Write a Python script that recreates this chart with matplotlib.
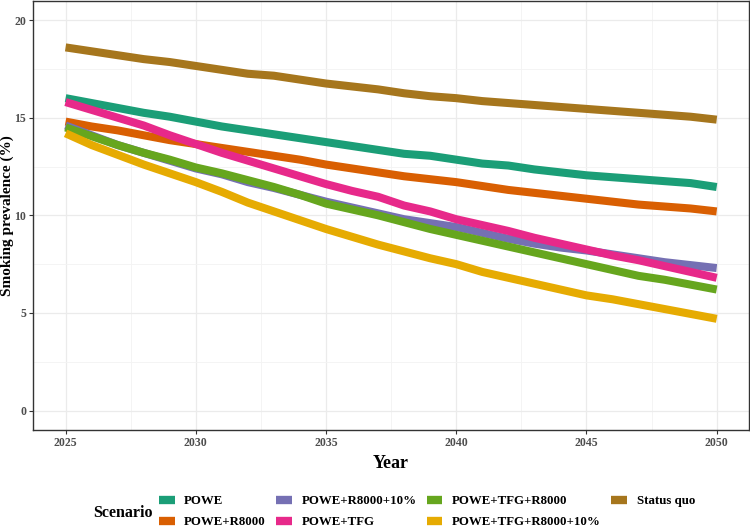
import matplotlib
matplotlib.use("Agg")
import matplotlib.pyplot as plt
from matplotlib.ticker import MultipleLocator

years = list(range(2025, 2051))

powe = [16.0, 15.75, 15.5, 15.25, 15.05, 14.8, 14.55, 14.35, 14.15, 13.95, 13.75, 13.55, 13.35,
        13.15, 13.05, 12.85, 12.65, 12.55, 12.35, 12.2, 12.05, 11.95, 11.85, 11.75, 11.65, 11.45]
powe_r8000 = [14.8, 14.55, 14.35, 14.1, 13.85, 13.65, 13.45, 13.25, 13.05, 12.85, 12.6, 12.4, 12.2,
              12.0, 11.85, 11.7, 11.5, 11.3, 11.15, 11.0, 10.85, 10.7, 10.55, 10.45, 10.35, 10.2]
powe_r8000_10 = [14.6, 14.1, 13.6, 13.2, 12.8, 12.4, 12.1, 11.7, 11.4, 11.05, 10.7, 10.4, 10.1,
                 9.8, 9.6, 9.4, 9.1, 8.8, 8.55, 8.35, 8.2, 8.0, 7.8, 7.6, 7.45, 7.3]
powe_tfg = [15.8, 15.4, 15.0, 14.6, 14.1, 13.65, 13.2, 12.8, 12.4, 12.0, 11.6, 11.25, 10.95,
            10.5, 10.2, 9.8, 9.5, 9.2, 8.85, 8.55, 8.25, 7.95, 7.7, 7.4, 7.1, 6.8]
powe_tfg_r8000 = [14.5, 14.05, 13.6, 13.2, 12.85, 12.45, 12.15, 11.8, 11.45, 11.05, 10.6, 10.3, 10.0,
                  9.65, 9.3, 9.0, 8.7, 8.4, 8.1, 7.8, 7.5, 7.2, 6.9, 6.7, 6.45, 6.2]
powe_tfg_r8000_10 = [14.2, 13.6, 13.1, 12.6, 12.15, 11.7, 11.2, 10.65, 10.2, 9.75, 9.3, 8.9, 8.5,
                     8.15, 7.8, 7.5, 7.1, 6.8, 6.5, 6.2, 5.9, 5.7, 5.45, 5.2, 4.95, 4.7]
status_quo = [18.6, 18.4, 18.2, 18.0, 17.85, 17.65, 17.45, 17.25, 17.15, 16.95, 16.75, 16.6, 16.45,
              16.25, 16.1, 16.0, 15.85, 15.75, 15.65, 15.55, 15.45, 15.35, 15.25, 15.15, 15.05, 14.9]

scenarios = ["POWE", "POWE+R8000", "POWE+R8000+10%", "POWE+TFG",
             "POWE+TFG+R8000", "POWE+TFG+R8000+10%", "Status quo"]
series = [powe, powe_r8000, powe_r8000_10, powe_tfg, powe_tfg_r8000, powe_tfg_r8000_10, status_quo]
colors = ["#1B9E77", "#D95F02", "#7570B3", "#E7298A", "#66A61E", "#E6AB02", "#A6761D"]

plt.rcParams["font.family"] = ["Liberation Serif", "DejaVu Serif"]
plt.rcParams["font.weight"] = "bold"

fig = plt.figure(figsize=(7.5, 5.31), dpi=100)
ax = fig.add_axes([0.044, 0.19, 0.955, 0.809])

for name, vals, c in zip(scenarios, series, colors):
    ax.plot(years, vals, color=c, lw=5.8, label=name, solid_capstyle="butt")

ax.set_xlim(2023.75, 2051.25)
ax.set_ylim(-1, 21)
ax.xaxis.set_major_locator(MultipleLocator(5))
ax.xaxis.set_minor_locator(MultipleLocator(2.5))
ax.yaxis.set_major_locator(MultipleLocator(5))
ax.yaxis.set_minor_locator(MultipleLocator(2.5))
ax.grid(True, which="major", color="#EBEBEB", lw=0.9)
ax.grid(True, which="minor", color="#F3F3F3", lw=0.6)
ax.set_axisbelow(True)
ax.tick_params(which="minor", length=0)
ax.tick_params(which="major", length=3, color="#333333", labelsize=8.5, labelcolor="#4D4D4D", pad=2)
for s in ax.spines.values():
    s.set_color("#333333")
    s.set_linewidth(1.0)

ax.set_xlabel("Year", fontsize=13, fontweight="bold", labelpad=4)
ax.set_ylabel("Smoking prevalence (%)", fontsize=11, fontweight="bold")
ax.yaxis.set_label_coords(-0.027, 0.5)

handles, labels = ax.get_legend_handles_labels()
leg = fig.legend(handles, labels, ncol=4, loc="center left", bbox_to_anchor=(0.2, 0.036),
                 frameon=False, fontsize=9.3, handlelength=1.2, handletextpad=0.75,
                 columnspacing=0.8, labelspacing=0.7, borderpad=0.2)
for h in leg.get_lines():
    h.set_linewidth(6)
fig.text(0.124, 0.034, "Scenario", fontsize=11.5, fontweight="bold", va="center")

fig.savefig("out.png", dpi=100)
